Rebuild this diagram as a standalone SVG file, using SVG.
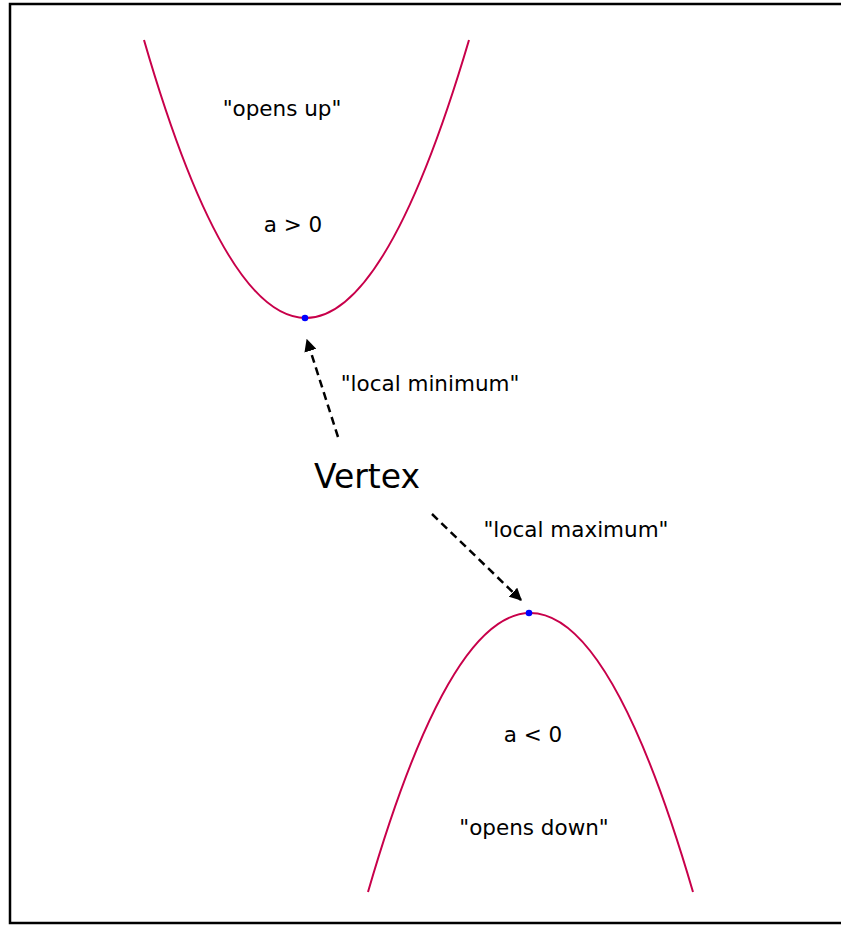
<svg xmlns="http://www.w3.org/2000/svg" width="841" height="926" viewBox="0 0 841 926">
<style>
.t{font-family:"DejaVu Sans","Noto Sans",sans-serif;font-size:21.5px;fill:#000;text-anchor:middle}
.curve{fill:none;stroke:#c8004a;stroke-width:2}
.arr{fill:none;stroke:#000;stroke-width:2.5;stroke-dasharray:8,5}
.pt{fill:#0000ff}
</style>
<defs>
<marker id="ah" viewBox="0 0 10 10" refX="9" refY="5" markerWidth="5" markerHeight="5" orient="auto" markerUnits="strokeWidth">
<path d="M0,0 L10,5 L0,10 z" fill="#000"/>
</marker>
</defs>
<rect x="0" y="0" width="841" height="926" fill="#fff"/>
<rect x="10" y="4" width="840" height="919" fill="none" stroke="#000" stroke-width="2.5"/>
<g id="upper-parabola">
<path class="curve" d="M144,40 Q305,596 469,40"/>
<circle class="pt" cx="305" cy="318" r="3.3"/>
</g>
<g id="lower-parabola">
<path class="curve" d="M368,892 Q530,334 693,892"/>
<circle class="pt" cx="529" cy="613" r="3.3"/>
</g>
<g id="connectors">
<line class="arr" x1="338" y1="437" x2="307" y2="340" marker-end="url(#ah)"/>
<line class="arr" x1="432" y1="514" x2="521" y2="600" marker-end="url(#ah)"/>
</g>
<g id="labels">
<text class="t" x="282" y="116">"opens up"</text>
<text class="t" x="293" y="232">a &gt; 0</text>
<text class="t" x="430" y="391">"local minimum"</text>
<text id="vertex" class="t" x="367" y="488" style="font-size:33px">Vertex</text>
<text class="t" x="576" y="537">"local maximum"</text>
<text class="t" x="533" y="742">a &lt; 0</text>
<text class="t" x="534" y="835">"opens down"</text>
</g>
</svg>
